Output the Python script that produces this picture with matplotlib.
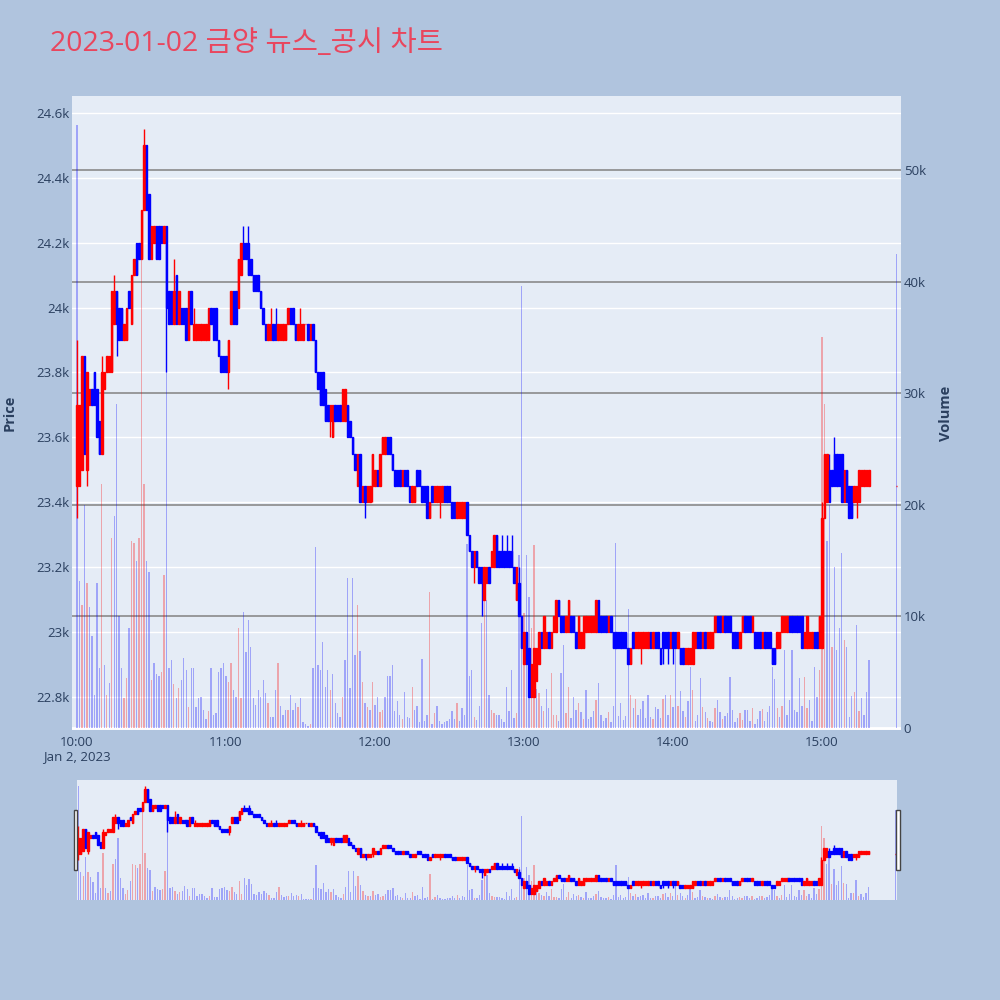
import matplotlib
matplotlib.use('Agg')
import matplotlib.pyplot as plt
import matplotlib.dates as mdates
from matplotlib.patches import Rectangle
from matplotlib.transforms import blended_transform_factory
import pandas as pd

plt.rcParams['font.family'] = ['Open Sans', 'Noto Sans CJK KR', 'DejaVu Sans']

title = '2023-01-02 금양 뉴스_공시 차트'
times = list(pd.date_range('2023-01-02 10:00', '2023-01-02 15:19', freq='min')) + [pd.Timestamp('2023-01-02 15:30')]

opens = [
    23450, 23450, 23500, 23850, 23500, 23700, 23750, 23800, 23750, 23650,
    23550, 23750, 23800, 23800, 23800, 23950, 24050, 24000, 24000, 23900,
    23900, 24050, 23950, 24100, 24200, 24200, 24150, 24300, 24500, 24350,
    24150, 24200, 24250, 24250, 24250, 24200, 24250, 24050, 24050, 23950,
    24100, 23950, 24000, 24000, 24000, 23900, 24050, 23900, 23900, 23900,
    23900, 23900, 23900, 23900, 24000, 24000, 24000, 23900, 23850, 23850,
    23850, 23800, 23950, 24050, 24050, 24000, 24100, 24200, 24200, 24200,
    24150, 24100, 24100, 24100, 24050, 24000, 23950, 23900, 23900, 23950,
    23950, 23900, 23900, 23900, 23900, 23950, 24000, 24000, 23950, 23900,
    23900, 23900, 23950, 23950, 23900, 23950, 23900, 23800, 23800, 23800,
    23750, 23700, 23650, 23600, 23700, 23700, 23700, 23650, 23650, 23700,
    23650, 23600, 23550, 23450, 23550, 23400, 23450, 23400, 23400, 23450,
    23450, 23500, 23450, 23550, 23550, 23600, 23600, 23550, 23500, 23500,
    23500, 23450, 23500, 23500, 23450, 23400, 23400, 23500, 23500, 23450,
    23450, 23450, 23350, 23450, 23400, 23400, 23400, 23400, 23450, 23450,
    23450, 23400, 23400, 23350, 23350, 23350, 23350, 23400, 23300, 23250,
    23200, 23250, 23200, 23200, 23100, 23150, 23200, 23200, 23200, 23300,
    23250, 23250, 23250, 23250, 23250, 23250, 23200, 23100, 23150, 23050,
    22900, 23000, 22950, 22800, 22800, 22850, 22900, 23000, 22950, 22950,
    23000, 22950, 23000, 23000, 23100, 23050, 23050, 23000, 23000, 23050,
    23050, 23000, 22950, 22950, 22950, 23000, 23000, 23000, 23000, 23000,
    23100, 23050, 23050, 23050, 23000, 23050, 23000, 23000, 23000, 23000,
    23000, 23000, 22950, 22900, 23000, 22950, 22950, 22950, 22950, 22950,
    22950, 23000, 22950, 23000, 23000, 22950, 23000, 23000, 23000, 22950,
    23000, 23000, 22950, 22950, 22950, 22900, 22900, 22900, 22900, 22950,
    23000, 23000, 22950, 23000, 22950, 22950, 22950, 23000, 23050, 23050,
    23000, 23050, 23050, 23050, 23000, 23000, 23000, 22950, 23000, 23050,
    23050, 23050, 23000, 23000, 23000, 23000, 22950, 23000, 23000, 23000,
    22950, 22950, 22950, 22950, 23000, 23000, 23000, 23050, 23050, 23050,
    23050, 23050, 23050, 22950, 22950, 22950, 22950, 23000, 23000, 22950,
    22950, 23350, 23400, 23500, 23500, 23550, 23550, 23550, 23550, 23400,
    23500, 23450, 23450, 23400, 23400, 23400, 23450, 23450, 23450, 23450,
    23450]

closes = [
    23700, 23700, 23850, 23550, 23800, 23750, 23700, 23700, 23600, 23550,
    23800, 23800, 23850, 23850, 24050, 24050, 23950, 23900, 23900, 23950,
    24000, 24000, 24100, 24150, 24100, 24150, 24300, 24500, 24300, 24150,
    24250, 24250, 24150, 24150, 24200, 24250, 24000, 23950, 23950, 24050,
    23950, 24050, 23950, 23950, 23900, 24050, 23950, 23950, 23950, 23950,
    23950, 23950, 23950, 24000, 23950, 23900, 23900, 23850, 23800, 23800,
    23800, 23900, 24050, 23950, 23950, 24150, 24200, 24150, 24150, 24100,
    24100, 24050, 24050, 24050, 24000, 23950, 23900, 23950, 23950, 23900,
    23900, 23950, 23950, 23950, 23950, 24000, 23950, 23950, 23900, 23950,
    23950, 23950, 23950, 23900, 23950, 23900, 23800, 23750, 23700, 23700,
    23650, 23650, 23700, 23700, 23650, 23650, 23650, 23750, 23750, 23600,
    23600, 23550, 23500, 23550, 23400, 23450, 23400, 23450, 23450, 23550,
    23500, 23450, 23550, 23600, 23600, 23550, 23550, 23500, 23450, 23450,
    23450, 23500, 23450, 23450, 23400, 23450, 23450, 23450, 23450, 23400,
    23400, 23350, 23400, 23400, 23450, 23450, 23450, 23450, 23400, 23400,
    23400, 23350, 23350, 23400, 23400, 23400, 23400, 23300, 23250, 23200,
    23250, 23200, 23150, 23150, 23200, 23200, 23150, 23250, 23300, 23200,
    23200, 23200, 23200, 23200, 23200, 23200, 23150, 23200, 23050, 22950,
    23000, 22900, 22800, 22900, 22950, 22950, 23000, 22950, 23050, 23000,
    22950, 23000, 23050, 23100, 23050, 23000, 23000, 23050, 23100, 23000,
    23000, 22950, 23050, 23000, 23050, 23050, 23050, 23050, 23050, 23100,
    23000, 23000, 23000, 23000, 23050, 23000, 22950, 22950, 22950, 22950,
    22950, 22950, 22900, 22950, 22950, 23000, 23000, 23000, 23000, 23000,
    23000, 22950, 23000, 22950, 22950, 22900, 22950, 22950, 22950, 23000,
    22950, 22950, 23000, 22900, 22900, 22950, 22950, 22950, 23000, 23000,
    22950, 22950, 23000, 22950, 23000, 23000, 23000, 23050, 23000, 23000,
    23050, 23000, 23000, 23000, 22950, 22950, 22950, 23000, 23050, 23000,
    23000, 23000, 23050, 22950, 22950, 22950, 23000, 22950, 22950, 22950,
    22900, 22900, 23000, 23000, 23050, 23050, 23050, 23000, 23000, 23000,
    23000, 23000, 22950, 23000, 23050, 23000, 23000, 22950, 22950, 23050,
    23350, 23550, 23550, 23400, 23450, 23450, 23450, 23450, 23400, 23500,
    23400, 23350, 23350, 23450, 23450, 23500, 23500, 23500, 23500, 23500,
    23450]

highs = [
    23900, 23700, 23850, 23850, 23800, 23750, 23750, 23800, 23750, 23650,
    23850, 23800, 23850, 23850, 24050, 24100, 24050, 24000, 24000, 23950,
    24000, 24050, 24100, 24150, 24200, 24200, 24300, 24550, 24500, 24350,
    24250, 24250, 24250, 24250, 24250, 24250, 24250, 24050, 24050, 24150,
    24100, 24050, 24000, 24000, 24000, 24050, 24050, 24000, 23950, 23950,
    23950, 23950, 23950, 24000, 24000, 24000, 24000, 23900, 23850, 23850,
    23850, 23900, 24050, 24050, 24050, 24150, 24200, 24250, 24200, 24250,
    24150, 24100, 24100, 24100, 24050, 24000, 23950, 23950, 24000, 23950,
    24000, 23950, 23950, 23950, 23950, 24000, 24000, 24000, 23950, 23950,
    24000, 23950, 23950, 23950, 23950, 23950, 23900, 23800, 23800, 23800,
    23750, 23700, 23700, 23700, 23700, 23700, 23700, 23750, 23750, 23700,
    23650, 23600, 23550, 23550, 23550, 23450, 23450, 23450, 23450, 23550,
    23500, 23500, 23550, 23600, 23600, 23600, 23600, 23550, 23500, 23500,
    23500, 23500, 23500, 23500, 23450, 23450, 23450, 23500, 23500, 23450,
    23450, 23450, 23400, 23450, 23450, 23450, 23450, 23450, 23450, 23450,
    23450, 23400, 23400, 23400, 23400, 23400, 23400, 23400, 23300, 23250,
    23250, 23250, 23200, 23200, 23200, 23200, 23200, 23250, 23300, 23300,
    23250, 23300, 23250, 23300, 23250, 23300, 23200, 23200, 23200, 23050,
    23000, 23000, 22950, 22900, 22950, 22950, 23000, 23000, 23050, 23000,
    23000, 23000, 23050, 23100, 23100, 23050, 23050, 23050, 23100, 23050,
    23050, 23000, 23050, 23000, 23050, 23050, 23050, 23050, 23050, 23100,
    23100, 23050, 23050, 23050, 23050, 23050, 23000, 23000, 23000, 23000,
    23000, 23000, 22950, 22950, 23000, 23000, 23000, 23000, 23000, 23000,
    23000, 23000, 23000, 23000, 23000, 22950, 23000, 23000, 23000, 23000,
    23000, 23000, 23000, 22950, 22950, 22950, 22950, 22950, 23000, 23000,
    23000, 23000, 23000, 23000, 23000, 23000, 23000, 23050, 23050, 23050,
    23050, 23050, 23050, 23050, 23000, 23000, 23000, 23000, 23050, 23050,
    23050, 23050, 23050, 23000, 23000, 23000, 23000, 23000, 23000, 23000,
    22950, 22950, 23000, 23000, 23050, 23050, 23050, 23050, 23050, 23050,
    23050, 23050, 23050, 23000, 23050, 23000, 23000, 23000, 23000, 23050,
    23400, 23550, 23550, 23550, 23500, 23600, 23550, 23550, 23550, 23500,
    23500, 23450, 23450, 23450, 23450, 23500, 23500, 23500, 23500, 23500,
    23450]

lows = [
    23350, 23450, 23500, 23550, 23450, 23700, 23700, 23700, 23600, 23550,
    23550, 23750, 23800, 23800, 23800, 23950, 23850, 23900, 23900, 23900,
    23900, 24000, 23950, 24100, 24100, 24150, 24150, 24300, 24300, 24150,
    24150, 24200, 24150, 24150, 24200, 24200, 23800, 23950, 23950, 23950,
    23950, 23950, 23950, 23950, 23900, 23900, 23950, 23900, 23900, 23900,
    23900, 23900, 23900, 23900, 23950, 23900, 23900, 23850, 23800, 23800,
    23800, 23750, 23950, 23950, 23950, 24000, 24100, 24150, 24150, 24100,
    24100, 24050, 24050, 24050, 24000, 23950, 23900, 23900, 23900, 23900,
    23900, 23900, 23900, 23900, 23900, 23950, 23950, 23950, 23900, 23900,
    23900, 23900, 23950, 23900, 23900, 23900, 23800, 23750, 23700, 23700,
    23650, 23650, 23600, 23600, 23650, 23650, 23650, 23650, 23650, 23600,
    23600, 23550, 23500, 23450, 23400, 23400, 23350, 23400, 23400, 23400,
    23450, 23450, 23450, 23550, 23550, 23550, 23550, 23500, 23450, 23450,
    23450, 23450, 23450, 23450, 23400, 23400, 23400, 23450, 23450, 23400,
    23400, 23350, 23350, 23400, 23400, 23400, 23350, 23400, 23400, 23400,
    23400, 23350, 23350, 23350, 23350, 23350, 23350, 23300, 23250, 23200,
    23150, 23200, 23150, 23050, 23100, 23150, 23150, 23200, 23200, 23200,
    23200, 23200, 23200, 23200, 23200, 23200, 23150, 23100, 23050, 22950,
    22900, 22900, 22800, 22800, 22800, 22850, 22900, 22950, 22950, 22950,
    22950, 22950, 23000, 23000, 23050, 23000, 23000, 23000, 23000, 23000,
    23000, 22950, 22950, 22950, 22950, 23000, 23000, 23000, 23000, 23000,
    23000, 23000, 23000, 23000, 23000, 23000, 22950, 22950, 22950, 22950,
    22950, 22950, 22900, 22900, 22950, 22950, 22950, 22900, 22950, 22950,
    22950, 22950, 22950, 22950, 22950, 22900, 22900, 22950, 22900, 22950,
    22900, 22950, 22950, 22900, 22900, 22900, 22900, 22900, 22900, 22950,
    22950, 22950, 22950, 22950, 22950, 22950, 22950, 23000, 23000, 23000,
    23000, 23000, 23000, 23000, 22950, 22950, 22950, 22950, 23000, 23000,
    23000, 23000, 23000, 22950, 22950, 22950, 22950, 22950, 22950, 22950,
    22900, 22900, 22950, 22950, 23000, 23000, 23000, 23000, 23000, 23000,
    23000, 23000, 22950, 22950, 22950, 22950, 22950, 22950, 22950, 22950,
    22950, 23350, 23400, 23400, 23450, 23450, 23450, 23450, 23400, 23400,
    23400, 23350, 23350, 23400, 23350, 23400, 23450, 23450, 23450, 23450,
    23450]

volumes = [
    54000, 13200, 11000, 20000, 13000, 10800, 8200, 3000, 13000, 5400,
    21900, 5600, 3000, 4000, 17000, 19000, 29000, 10000, 5400, 2700,
    4500, 9000, 16800, 16600, 15000, 17000, 42800, 21900, 15000, 14000,
    4300, 5800, 4800, 4700, 5000, 13700, 32000, 5400, 6100, 3900,
    2700, 3600, 4300, 6300, 5200, 1900, 5400, 5400, 1900, 2700,
    2800, 1600, 800, 1500, 5400, 1200, 1300, 5000, 5400, 5800,
    4700, 4100, 5800, 3400, 2800, 9000, 2700, 10400, 6800, 9700,
    7300, 2700, 2100, 3400, 2800, 4300, 3100, 2200, 1000, 1000,
    3400, 5800, 2000, 1200, 1600, 1600, 3000, 1600, 2200, 1900,
    2700, 500, 400, 200, 400, 5400, 16200, 5600, 5200, 7700,
    3700, 5200, 3400, 4800, 2200, 1300, 1000, 2800, 6100, 13400,
    3600, 13400, 6500, 11000, 6900, 4100, 2200, 1900, 1600, 4100,
    2100, 2800, 1400, 1600, 2800, 4700, 4700, 5600, 1500, 2400,
    1200, 800, 3200, 1000, 900, 3700, 1600, 2000, 500, 6200,
    600, 1200, 12200, 400, 1300, 2000, 600, 400, 500, 600,
    800, 1500, 800, 2200, 600, 1800, 1200, 16500, 4700, 5200,
    1000, 700, 2000, 9400, 12000, 11500, 3000, 1600, 1300, 1200,
    1200, 800, 500, 3700, 1500, 5200, 900, 1300, 15500, 39600,
    10300, 15500, 11700, 9000, 16400, 3500, 3100, 2000, 1500, 3500,
    1800, 4900, 1200, 1200, 600, 4900, 7400, 1300, 3700, 900,
    2800, 1600, 2200, 1400, 800, 3400, 800, 1000, 1500, 2500,
    4000, 1200, 600, 900, 1400, 500, 2000, 16600, 1100, 2200,
    700, 1100, 10700, 3000, 1800, 2600, 1200, 1700, 2400, 900,
    3000, 1000, 800, 1900, 1700, 900, 2600, 3000, 1200, 3000,
    1900, 7500, 2000, 3300, 1500, 1000, 2400, 5500, 3400, 600,
    1200, 4500, 1900, 1400, 900, 600, 500, 1800, 2500, 1400,
    800, 1100, 1300, 4600, 1600, 500, 900, 1300, 700, 1600,
    1600, 600, 1800, 400, 800, 1500, 1700, 600, 1400, 2000,
    5500, 4400, 1800, 1000, 2000, 7000, 1200, 2500, 7000, 1600,
    1400, 4500, 2000, 4600, 1800, 2500, 600, 5500, 2800, 5200,
    35000, 29000, 16800, 20000, 7300, 14400, 7000, 9000, 15700, 7900,
    7300, 1000, 2900, 3200, 9200, 1500, 2700, 1200, 3200, 6100,
    42500]

price_ticks = [22800, 23000, 23200, 23400, 23600, 23800, 24000, 24200, 24400, 24600]
price_labels = ['22.8k', '23k', '23.2k', '23.4k', '23.6k', '23.8k', '24k', '24.2k', '24.4k', '24.6k']
vol_ticks = [0, 10000, 20000, 30000, 40000, 50000]
vol_labels = ['0', '10k', '20k', '30k', '40k', '50k']
x_tick_times = ['10:00', '11:00', '12:00', '13:00', '14:00', '15:00']
x_tick_labels = ['10:00\nJan 2, 2023', '11:00', '12:00', '13:00', '14:00', '15:00']

BG = '#B0C4DE'
PLOT_BG = '#E5ECF6'
TXT = '#2a3f5f'
MIN = 1.0 / 1440.0

x = mdates.date2num(pd.to_datetime(times))
t0 = mdates.date2num(pd.Timestamp('2023-01-02 10:00'))
xt = [mdates.date2num(pd.Timestamp('2023-01-02 ' + t)) for t in x_tick_times]

inc = [c >= o for o, c in zip(opens, closes)]
ccol = ['#FF0000' if i else '#0000FF' for i in inc]
prev_close = [None] + closes[:-1]
vcol = [(1, 0, 0, 0.3) if (pc is not None and c > pc) else (0, 0, 1, 0.3)
        for c, pc in zip(closes, prev_close)]
bottoms = [min(o, c) for o, c in zip(opens, closes)]
heights = [abs(c - o) for o, c in zip(opens, closes)]

P_LIM = (22698, 24652)
V_LIM = (-180, 56630)


def draw(ax_v, ax_p, body_w, lw):
    ax_v.bar(x, volumes, width=0.55 * MIN, color=vcol, linewidth=0, zorder=2)
    ax_p.vlines(x, lows, highs, colors=ccol, linewidth=lw, zorder=3)
    ax_p.bar(x, heights, bottom=bottoms, width=body_w * MIN, color=ccol,
             edgecolor=ccol, linewidth=lw, zorder=4)
    ax_v.set_ylim(*V_LIM)
    ax_p.set_ylim(*P_LIM)
    for ax in (ax_v, ax_p):
        for s in ax.spines.values():
            s.set_visible(False)


fig = plt.figure(figsize=(10, 10), dpi=100, facecolor=BG)

rect = [0.072, 0.270, 0.829, 0.634]
ax_v = fig.add_axes(rect)
ax_p = fig.add_axes(rect, sharex=ax_v)
ax_p.patch.set_alpha(0)
ax_v.set_facecolor(PLOT_BG)

draw(ax_v, ax_p, 0.6, 1.0)
ax_v.set_xlim(t0 - 2.0 * MIN, t0 + 331.85 * MIN)

# price grid (white) drawn beneath the volume bars
tr = blended_transform_factory(ax_v.transAxes, ax_p.transData)
for p in price_ticks:
    ax_v.plot([0, 1], [p, p], transform=tr, color='white', linewidth=1.0, zorder=0.6)
for v in vol_ticks[1:]:
    ax_v.axhline(v, color='#8a8a8a', linewidth=1.2, zorder=0.8)
ax_v.axhline(0, color='white', linewidth=2.0, zorder=0.9)

ax_v.yaxis.tick_right()
ax_v.set_yticks(vol_ticks)
ax_v.set_yticklabels(vol_labels)
ax_v.tick_params(axis='y', length=0, pad=2, labelsize=9.5, labelcolor=TXT)
ax_v.set_xticks(xt)
ax_v.set_xticklabels(x_tick_labels)
ax_v.tick_params(axis='x', length=0, pad=4, labelsize=9.5, labelcolor=TXT)

ax_p.set_yticks(price_ticks)
ax_p.set_yticklabels(price_labels)
ax_p.tick_params(axis='y', length=0, pad=1.5, labelsize=9.5, labelcolor=TXT)
ax_p.tick_params(axis='x', length=0, labelbottom=False)

fig.text(0.010, 0.587, 'Price', rotation=90, ha='center', va='center',
         fontsize=10.5, fontweight='bold', color=TXT)
fig.text(0.946, 0.587, 'Volume', rotation=90, ha='center', va='center',
         fontsize=10.5, fontweight='bold', color=TXT)

fig.text(0.050, 0.949, title, ha='left', va='baseline', fontsize=20.5, color='#E9465E')

# range slider
srect = [0.077, 0.100, 0.820, 0.120]
sv = fig.add_axes(srect)
sp = fig.add_axes(srect, sharex=sv)
sp.patch.set_alpha(0)
sv.set_facecolor(PLOT_BG)
draw(sv, sp, 0.6, 1.0)
sv.set_xlim(t0 - 0.5 * MIN, t0 + 330.5 * MIN)
for ax in (sv, sp):
    ax.set_xticks([])
    ax.set_yticks([])

for hx in (0.0737, 0.8963):
    fig.patches.append(Rectangle((hx, 0.130), 0.0036, 0.060, transform=fig.transFigure,
                                 facecolor='white', edgecolor='#444444', linewidth=1.0,
                                 zorder=10))

fig.savefig('out.png', dpi=100, facecolor=BG)
